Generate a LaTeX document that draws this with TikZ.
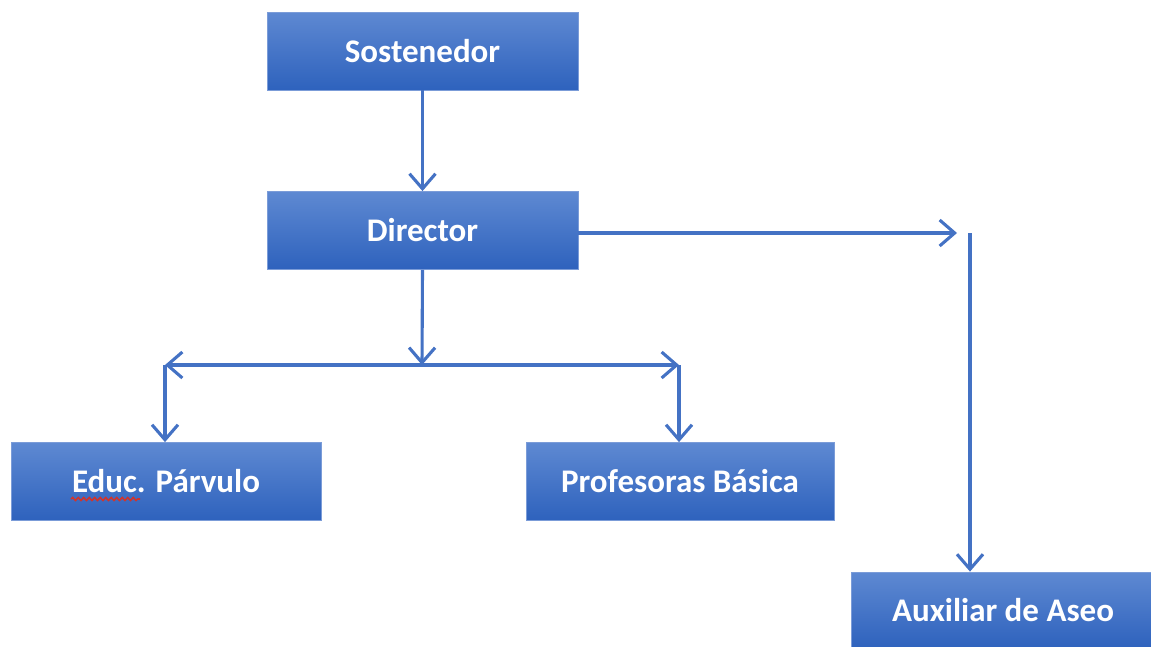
\documentclass[tikz,border=0pt]{standalone}
\usepackage{fontspec}
\setmainfont{Carlito}
\usetikzlibrary{arrows.meta,decorations.pathmorphing}
\definecolor{boxtop}{HTML}{5E89D2}
\definecolor{boxbot}{HTML}{2E62BD}
\definecolor{boxedge}{HTML}{7B9CD8}
\definecolor{linec}{HTML}{4472C4}
\definecolor{spellred}{HTML}{D0342C}
\begin{document}
\begin{tikzpicture}[x=1pt,y=-1pt,
  orgbox/.style={rectangle, minimum width=#1, minimum height=78pt, inner sep=0pt,
    top color=boxtop, bottom color=boxbot, draw=boxedge, line width=0.8pt,
    text=white, font=\fontsize{33}{40}\selectfont\bfseries},
  orgbox/.default=311pt,
  conn/.style={draw=linec, line width=3.1pt, -{Straight Barb[length=15pt,width=26pt,line width=3.1pt]}},
  squiggle/.style={draw=spellred, line width=1.6pt, decorate,
    decoration={snake, amplitude=1.5pt, segment length=5.5pt}}]
\useasboundingbox (0,0) rectangle (1151,646);
\node[orgbox] (sos) at (422.5,51) {Sostenedor};
\node[orgbox] (dir) at (422.5,230.5) {Director};
\node[orgbox=310pt] (edu) at (166,481.5) {Educ. Párvulo};
\node[orgbox=308pt] (pro) at (680,481.5) {Profesoras Básica};
\node[orgbox=304pt, minimum height=76pt] (aux) at (1003,610) {Auxiliar de Aseo};
\coordinate (j) at (422,365);
\coordinate (jl) at (165,365);
\coordinate (jr) at (679,365);
\coordinate (rt) at (957,233);
\coordinate (vt) at (970,233);
\coordinate (sq1) at (71,499);
\coordinate (sq2) at (140,499);
\draw[conn] (sos.south) -- (dir.north);
\draw[conn] (dir.south) -- (j);
\draw[conn] (j) -- (jl);
\draw[conn] (j) -- (jr);
\draw[conn] (jl) -- (edu.north -| jl);
\draw[conn] (jr) -- (pro.north -| jr);
\draw[conn] (dir.east |- rt) -- (rt);
\draw[conn] (vt) -- (aux.north -| vt);
\draw[squiggle] (sq1) -- (sq2);
\end{tikzpicture}
\end{document}
